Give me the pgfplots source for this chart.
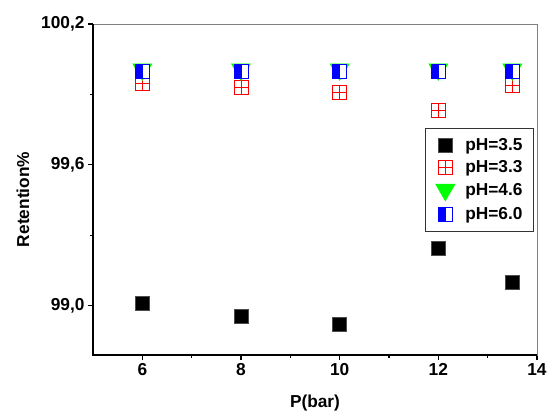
\documentclass[border=0pt]{standalone}
\usepackage{fontspec}
\setmainfont{Liberation Sans}
\usepackage{pgfplots}
\pgfplotsset{compat=1.18}
\usetikzlibrary{plotmarks}
\pgfdeclareplotmark{sqplus}{%
 \pgfpathrectangle{\pgfpoint{-\pgfplotmarksize}{-\pgfplotmarksize}}{\pgfpoint{2\pgfplotmarksize}{2\pgfplotmarksize}}%
 \pgfpathmoveto{\pgfpoint{-\pgfplotmarksize}{0pt}}\pgfpathlineto{\pgfpoint{\pgfplotmarksize}{0pt}}%
 \pgfpathmoveto{\pgfpoint{0pt}{-\pgfplotmarksize}}\pgfpathlineto{\pgfpoint{0pt}{\pgfplotmarksize}}%
 \pgfusepathqstroke}
\pgfdeclareplotmark{halfsqL}{%
 \pgfpathrectangle{\pgfpoint{-\pgfplotmarksize}{-\pgfplotmarksize}}{\pgfpoint{2\pgfplotmarksize}{2\pgfplotmarksize}}%
 \pgfsetfillcolor{white}\pgfusepathqfill
 \pgfpathrectangle{\pgfpoint{-\pgfplotmarksize}{-\pgfplotmarksize}}{\pgfpoint{1.1\pgfplotmarksize}{2\pgfplotmarksize}}%
 \pgfsetfillcolor{blue}\pgfusepathqfill
 \pgfpathrectangle{\pgfpoint{-\pgfplotmarksize}{-\pgfplotmarksize}}{\pgfpoint{2\pgfplotmarksize}{2\pgfplotmarksize}}%
 \pgfusepathqstroke}
\definecolor{brightgreen}{RGB}{0,255,0}
\pgfplotsset{myleg/.style={legend image code/.code={\path[draw=none,fill=none] (0pt,0pt) -- (29pt,0pt); \draw[##1] plot coordinates {(14pt,0pt)};}}}
\begin{document}
\begin{tikzpicture}
\begin{axis}[
  scale only axis,
  width=444pt, height=331pt,
  xmin=5, xmax=14, ymin=98.79, ymax=100.2,
  xtick={6,8,10,12,14},
  xticklabels={6,8,10,12,14},
  ytick={99.0,99.6,100.2},
  yticklabels={{99,0},{99,6},{100,2}},
  minor x tick num=1,
  minor y tick num=1,
  tick align=outside,
  xtick pos=bottom, ytick pos=left,
  major tick length=5pt, minor tick length=3pt,
  tick style={black, line width=1.1pt},
  axis line style={gray, line width=0.6pt},
  ticklabel style={font=\fontsize{17.3}{19}\selectfont\bfseries},
  xlabel={P(bar)}, ylabel={Retention\%},
  label style={font=\fontsize{17.3}{19}\selectfont\bfseries},
  xlabel style={at={(axis description cs:0.5,-0.145)}, anchor=center},
  ylabel style={at={(axis description cs:-0.158,0.47)}, anchor=center},
  legend style={at={(axis description cs:0.993,0.686)}, anchor=north east,
    draw=black!80, line width=0.7pt, font=\fontsize{17.3}{20}\selectfont\bfseries,
    row sep=4.5pt, inner xsep=6pt, inner ysep=8.5pt,
    nodes={inner xsep=5pt}},
  legend cell align=left,
  after end axis/.code={
    \draw[black, line width=1.6pt] (rel axis cs:0,1) -- (rel axis cs:0,0) -- (rel axis cs:1,0);
  },
]
\addplot[only marks, myleg, mark=square*, mark size=7pt, draw=black!70, fill=black] coordinates {
 (6,99.01) (8,98.955) (10,98.922) (12,99.245) (13.5,99.10)};
\addlegendentry{pH=3.5}
\addplot[only marks, myleg, mark=sqplus, mark size=7pt, red, line width=0.8pt] coordinates {
 (6,99.948) (8,99.932) (10,99.908) (12,99.833) (13.5,99.938)};
\addlegendentry{pH=3.3}
\addplot[only marks, myleg, mark=triangle*, mark size=11pt, mark options={rotate=180, draw=brightgreen, fill=brightgreen}] coordinates {
 (6,100.0064) (8,100.0064) (10,100.0064) (12,100.0064) (13.5,100.0064)};
\addlegendentry{pH=4.6}
\addplot[only marks, myleg, mark=halfsqL, mark size=7pt, draw=blue, line width=0.8pt] coordinates {
 (6,100.0) (8,100.0) (10,100.0) (12,100.0) (13.5,100.0)};
\addlegendentry{pH=6.0}
\end{axis}
\pgfresetboundingbox
\path (-93pt,-57pt) rectangle (454pt,355pt);
\end{tikzpicture}
\end{document}
